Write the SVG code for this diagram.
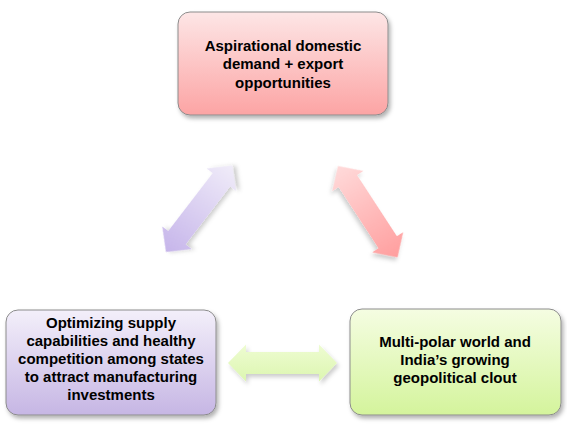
<svg xmlns="http://www.w3.org/2000/svg" width="567" height="424" viewBox="0 0 567 424">
  <defs>
    <linearGradient id="gPink" x1="0" y1="0" x2="0" y2="1">
      <stop offset="0" stop-color="#fde6e6"/>
      <stop offset="1" stop-color="#fca4a4"/>
    </linearGradient>
    <linearGradient id="gPurple" x1="0" y1="0" x2="0" y2="1">
      <stop offset="0" stop-color="#f3effa"/>
      <stop offset="1" stop-color="#c6b6e4"/>
    </linearGradient>
    <linearGradient id="gGreen" x1="0" y1="0" x2="0" y2="1">
      <stop offset="0" stop-color="#f5fde2"/>
      <stop offset="1" stop-color="#d4f49c"/>
    </linearGradient>
    <!-- arrow gradients along arrow local axis -->
    <linearGradient id="aPurple" x1="1" y1="0" x2="0" y2="0">
      <stop offset="0" stop-color="#f0ecf9"/>
      <stop offset="1" stop-color="#c6b5ea"/>
    </linearGradient>
    <linearGradient id="aPink" x1="0" y1="0" x2="1" y2="0">
      <stop offset="0" stop-color="#ffdada"/>
      <stop offset="1" stop-color="#ff9e9e"/>
    </linearGradient>
    <linearGradient id="aGreen" x1="0" y1="0" x2="0" y2="1">
      <stop offset="0" stop-color="#eefcd2"/>
      <stop offset="1" stop-color="#dcf6b0"/>
    </linearGradient>
    <filter id="shadow" x="-20%" y="-20%" width="140%" height="150%">
      <feDropShadow dx="2" dy="3" stdDeviation="2.2" flood-color="#000" flood-opacity="0.3"/>
    </filter>
    <filter id="ashadow" x="-30%" y="-60%" width="160%" height="220%">
      <feDropShadow dx="2" dy="3" stdDeviation="2" flood-color="#000" flood-opacity="0.2"/>
    </filter>
    <path id="dblArrow" d="M0,0 L18,-18.5 L18,-11 L91,-11 L91,-18.5 L109,0 L91,18.5 L91,11 L18,11 L18,18.5 Z"/>
  </defs>
  <style>
    .box { stroke: #8c8c8c; stroke-width: 1; filter: url(#shadow); }
    .lbl { font-family: "Liberation Sans", Arial, sans-serif; font-weight: bold; font-size: 15px; fill: #000; text-anchor: middle; }
    .arr { filter: url(#ashadow); }
  </style>

  <g id="connectors">
    <g transform="translate(166,252) rotate(-52.5)">
      <use href="#dblArrow" class="arr" fill="url(#aPurple)"/>
    </g>
    <g transform="translate(338,166) rotate(56.9)">
      <use href="#dblArrow" class="arr" fill="url(#aPink)"/>
    </g>
    <g transform="translate(228,363)">
      <use href="#dblArrow" class="arr" fill="url(#aGreen)"/>
    </g>
  </g>

  <g id="node-top">
    <rect class="box" x="178" y="12" width="210" height="103" rx="12" ry="12" fill="url(#gPink)"/>
    <text class="lbl" x="283" y="51">Aspirational domestic</text>
    <text class="lbl" x="283" y="69">demand + export</text>
    <text class="lbl" x="283" y="88">opportunities</text>
  </g>

  <g id="node-left">
    <rect class="box" x="6" y="310" width="210" height="105" rx="12" ry="12" fill="url(#gPurple)"/>
    <text class="lbl" x="111" y="328">Optimizing supply</text>
    <text class="lbl" x="111" y="346">capabilities and healthy</text>
    <text class="lbl" x="111" y="364">competition among states</text>
    <text class="lbl" x="111" y="382">to attract manufacturing</text>
    <text class="lbl" x="111" y="400">investments</text>
  </g>

  <g id="node-right">
    <rect class="box" x="350" y="309" width="211" height="106" rx="12" ry="12" fill="url(#gGreen)"/>
    <text class="lbl" x="455" y="347">Multi-polar world and</text>
    <text class="lbl" x="455" y="365">India’s growing</text>
    <text class="lbl" x="455" y="383">geopolitical clout</text>
  </g>
</svg>
